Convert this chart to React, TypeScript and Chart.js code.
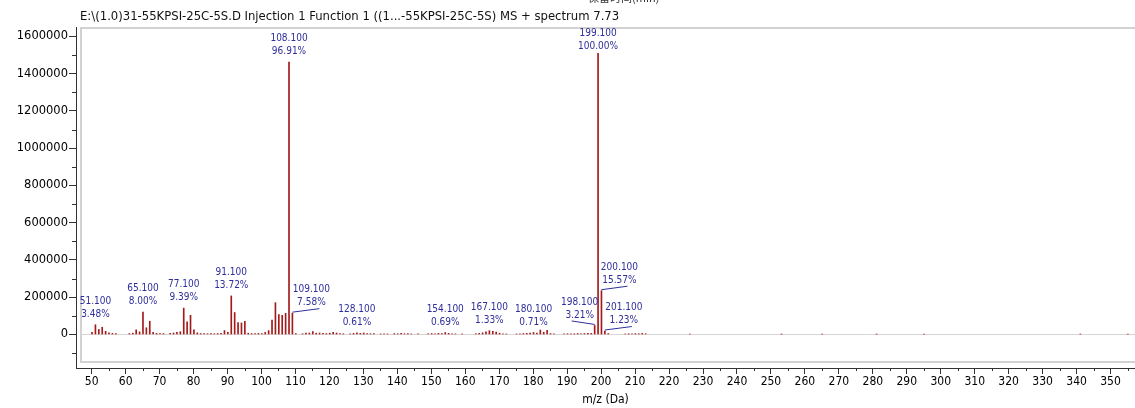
import React, { useEffect, useRef } from 'react';
import { Chart, registerables } from 'chart.js';

Chart.register(...registerables);

// ---- data ----
const mzValues = [
  50.1, 51.1, 52.1, 53.1, 54.1, 55.1, 56.1, 57.1,
  61.1, 62.1, 63.1, 64.1, 65.1, 66.1, 67.1, 68.1, 69.1, 70.1, 71.1,
  73.1, 74.1, 75.1, 76.1, 77.1, 78.1, 79.1, 80.1, 81.1, 82.1, 83.1, 84.1, 85.1, 86.1, 87.1, 88.1,
  89.1, 90.1, 91.1, 92.1, 93.1, 94.1, 95.1, 96.1, 97.1, 98.1, 99.1, 100.1,
  101.1, 102.1, 103.1, 104.1, 105.1, 106.1, 107.1, 108.1, 109.1, 110.1,
  112.1, 113.1, 114.1, 115.1, 116.1, 117.1, 118.1, 119.1, 120.1, 121.1, 122.1, 123.1, 124.1,
  126.1, 127.1, 128.1, 129.1, 130.1, 131.1, 132.1, 133.1,
  135.1, 136.1, 137.1, 139.1, 140.1, 141.1, 142.1, 143.1, 144.1, 146.1,
  149.1, 150.1, 151.1, 152.1, 153.1, 154.1, 155.1, 156.1, 157.1, 159.1,
  163.1, 164.1, 165.1, 166.1, 167.1, 168.1, 169.1, 170.1, 171.1, 172.1,
  175.1, 176.1, 177.1, 178.1, 179.1, 180.1, 181.1, 182.1, 183.1, 184.1, 185.1, 186.1,
  189.1, 190.1, 191.1, 192.1, 193.1, 194.1, 195.1, 196.1, 197.1, 198.1, 199.1, 200.1, 201.1, 202.1,
  207.1, 208.1, 209.1, 210.1, 211.1, 212.1, 213.1,
  226.1, 253.1, 265.1, 281.1, 295.1, 341.1, 355.1,
];

const intensities = [
  12000, 52500, 27000, 39000, 17000, 9000, 6000, 5000,
  5000, 7000, 25000, 14000, 120800, 36000, 71000, 11000, 6000, 5000, 5000,
  6000, 8000, 11000, 15000, 141800, 68000, 103000, 25000, 9000, 5000, 5000, 4000, 5000, 4000, 5000, 6000,
  21000, 11000, 207200, 118000, 64000, 62000, 71000, 7000, 5000, 5000, 6000, 5000,
  11000, 21000, 78000, 171000, 107000, 103000, 114000, 1463300, 114500, 5000,
  4000, 7000, 8000, 16000, 7000, 8000, 6000, 5000, 7000, 12000, 8000, 5000, 4000,
  4000, 6000, 9200, 6000, 8000, 5000, 4000, 5000,
  3000, 4000, 3000, 5000, 4000, 6000, 4000, 5000, 3000, 3000,
  4000, 5000, 4000, 6000, 5000, 10400, 6000, 4000, 3000, 3000,
  4000, 6000, 9000, 14000, 20100, 17000, 13000, 7000, 4000, 3000,
  3000, 4000, 5000, 6000, 7000, 10700, 8000, 24000, 12000, 22000, 5000, 3000,
  3000, 4000, 3000, 4000, 5000, 4000, 5000, 6000, 6000, 48500, 1510000, 235100, 18600, 5000,
  3000, 4000, 3000, 5000, 4000, 6000, 4000,
  2500, 2000, 2000, 2000, 2000, 2000, 2000,
];

const peakLabelMz = [51.1, 65.1, 77.1, 91.1, 108.1, 109.1, 128.1, 154.1, 167.1, 180.1, 198.1, 199.1, 200.1, 201.1];
const peakLabelPct = ['3.48%', '8.00%', '9.39%', '13.72%', '96.91%', '7.58%', '0.61%', '0.69%', '1.33%', '0.71%', '3.21%', '100.00%', '15.57%', '1.23%'];

const xTickValues = [50, 60, 70, 80, 90, 100, 110, 120, 130, 140, 150, 160, 170, 180, 190, 200, 210, 220, 230, 240, 250, 260, 270, 280, 290, 300, 310, 320, 330, 340, 350];
const yTickValues = [0, 200000, 400000, 600000, 800000, 1000000, 1200000, 1400000, 1600000];
const titleText = 'E:\\(1.0)31-55KPSI-25C-5S.D Injection 1 Function 1 ((1...-55KPSI-25C-5S) MS + spectrum 7.73';
const topCutText = '保留时间(min)';
const xAxisTitle = 'm/z (Da)';

// label layout (horizontal shift in px for labels with leader lines)
const labelShift: Record<string, number> = { '109.1': 19, '198.1': -15, '200.1': 18, '201.1': 19 };

export default function App() {
  const ref = useRef<HTMLCanvasElement>(null);

  useEffect(() => {
    document.body.style.margin = '0';
    const canvas = ref.current;
    if (!canvas) return;

    const overlay = {
      id: 'overlay',
      beforeDatasetsDraw(chart: any) {
        const { ctx, chartArea } = chart;
        const ys = chart.scales.y;
        ctx.save();
        // plot frame
        ctx.strokeStyle = '#d2d2d2';
        ctx.lineWidth = 2;
        ctx.strokeRect(chartArea.left + 5, chartArea.top + 1, chartArea.right - chartArea.left + 10, chartArea.bottom - chartArea.top - 7);
        // zero line
        const y0 = Math.round(ys.getPixelForValue(0)) + 0.5;
        ctx.strokeStyle = '#d6d6d6';
        ctx.lineWidth = 1;
        ctx.beginPath();
        ctx.moveTo(chartArea.left + 5, y0);
        ctx.lineTo(chartArea.right, y0);
        ctx.stroke();
        ctx.restore();
      },
      afterDatasetsDraw(chart: any) {
        const { ctx } = chart;
        const xs = chart.scales.x;
        const ys = chart.scales.y;
        ctx.save();
        ctx.font = '10px "DejaVu Sans Condensed"';
        ctx.fillStyle = '#2e2e9c';
        ctx.strokeStyle = '#2e2e9c';
        ctx.lineWidth = 1;
        ctx.textAlign = 'center';
        ctx.textBaseline = 'middle';
        peakLabelMz.forEach((mz, i) => {
          const idx = mzValues.indexOf(mz);
          const val = intensities[idx];
          const bx = xs.getPixelForValue(mz);
          const top = ys.getPixelForValue(val);
          let l1 = top - 23.5;
          if (l1 < 33) l1 = 33;
          const l2 = l1 + 13;
          const shift = labelShift[String(mz)] || 0;
          const cx = bx + shift;
          ctx.fillText(mz.toFixed(3), cx, l1);
          ctx.fillText(peakLabelPct[i], cx, l2);
          if (shift !== 0) {
            const sign = shift > 0 ? 1 : -1;
            ctx.beginPath();
            ctx.moveTo(bx, top - 1);
            ctx.lineTo(cx + sign * 8, l2 + 6);
            ctx.stroke();
          }
        });
        ctx.restore();
      },
      afterDraw(chart: any) {
        const { ctx, chartArea } = chart;
        const xs = chart.scales.x;
        const ys = chart.scales.y;
        ctx.save();
        ctx.strokeStyle = '#333';
        ctx.lineWidth = 1;
        // minor y ticks
        for (let v = -100000; v <= 1600000; v += 200000) {
          const py = Math.round(ys.getPixelForValue(v)) + 0.5;
          ctx.beginPath();
          ctx.moveTo(chartArea.left - 4, py);
          ctx.lineTo(chartArea.left, py);
          ctx.stroke();
        }
        // minor x ticks
        for (let v = 55; v <= 355; v += 10) {
          const px = Math.round(xs.getPixelForValue(v)) + 0.5;
          ctx.beginPath();
          ctx.moveTo(px, chartArea.bottom);
          ctx.lineTo(px, chartArea.bottom + 3);
          ctx.stroke();
        }
        // title
        ctx.fillStyle = '#111';
        ctx.textBaseline = 'middle';
        ctx.textAlign = 'left';
        let size = 12;
        ctx.font = `${size}px "DejaVu Sans Condensed"`;
        const w = ctx.measureText(titleText).width;
        size = size * 540 / w;
        ctx.font = `${size}px "DejaVu Sans Condensed"`;
        ctx.fillText(titleText, chartArea.left + 4, 17);
        // cut-off text at the very top
        ctx.fillStyle = '#333';
        ctx.textBaseline = 'alphabetic';
        ctx.font = '11px "Noto Sans CJK SC"';
        ctx.fillText(topCutText, 588, 2);
        ctx.restore();
      },
    };

    const chart = new Chart(canvas, {
      type: 'bar',
      data: {
        datasets: [
          {
            data: mzValues.map((m, i) => ({ x: m, y: intensities[i] })),
            backgroundColor: '#a31a1a',
            borderWidth: 0,
            barThickness: 1,
          } as any,
        ],
      },
      options: {
        responsive: false,
        animation: false,
        devicePixelRatio: 1,
        layout: { padding: { left: 0, right: 0, top: 27, bottom: 0 } },
        plugins: { legend: { display: false }, tooltip: { enabled: false } },
        scales: {
          x: {
            type: 'linear',
            min: 45.38,
            max: 357.2,
            offset: false,
            afterFit(s: any) { s.height = 40; },
            afterBuildTicks(s: any) { s.ticks = xTickValues.map((v) => ({ value: v })); },
            ticks: {
              autoSkip: false,
              maxRotation: 0,
              color: '#000',
              padding: 1,
              font: { family: 'DejaVu Sans Condensed', size: 12 },
              callback: (v: any) => String(v),
            },
            grid: { offset: false, drawOnChartArea: false, drawTicks: true, tickLength: 6, tickColor: '#333' },
            border: { color: '#333', width: 1 },
            title: {
              display: true,
              text: xAxisTitle,
              color: '#000',
              font: { family: 'DejaVu Sans Condensed', size: 12 },
              padding: { top: 0, bottom: 1 },
            },
          },
          y: {
            type: 'linear',
            min: -179900,
            max: 1651000,
            afterFit(s: any) { s.width = 76; },
            afterBuildTicks(s: any) { s.ticks = yTickValues.map((v) => ({ value: v })); },
            ticks: {
              autoSkip: false,
              color: '#000',
              padding: 1,
              font: { family: 'DejaVu Sans', size: 11.5 },
              callback: (v: any) => String(v),
            },
            grid: { drawOnChartArea: false, drawTicks: true, tickLength: 7, tickColor: '#333' },
            border: { color: '#333', width: 1 },
          },
        },
      } as any,
      plugins: [overlay],
    });

    return () => chart.destroy();
  }, []);

  return (
    <div style={{ width: 1135, height: 408 }}>
      <canvas ref={ref} width={1135} height={408} style={{ display: 'block' }} />
    </div>
  );
}
